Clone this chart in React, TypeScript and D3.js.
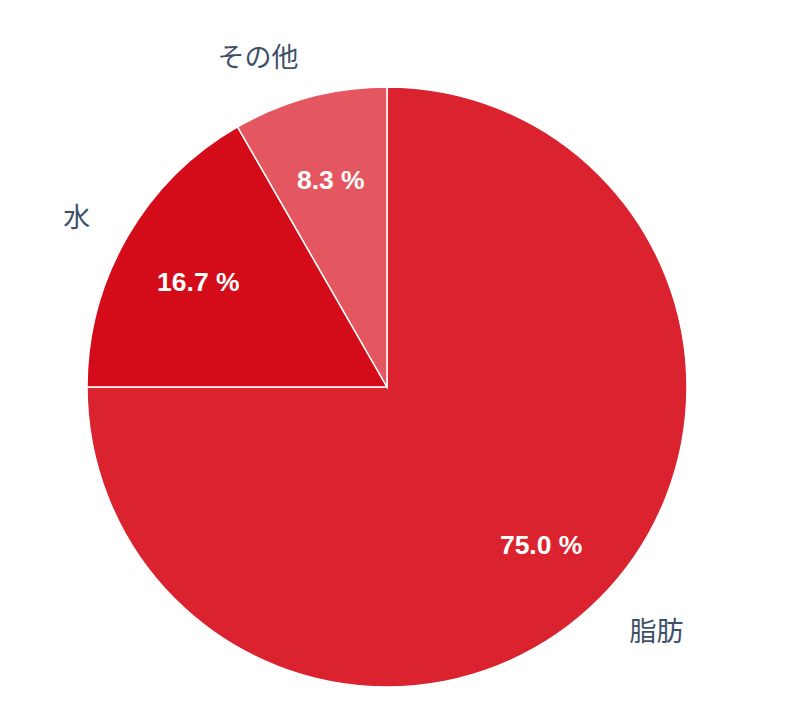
import React from "react";
import * as d3 from "d3";

const categories = ["脂肪", "水", "その他"];
const values = [75.0, 16.7, 8.3];
const colors = ["#db2330", "#d40b19", "#e45761"];

const W = 798;
const H = 706;
const cx = 387;
const cy = 387;
const R = 300;

export default function App() {
  const pie = d3.pie<number>().sort(null).value((d) => d)(values);
  const arc = d3.arc<d3.PieArcDatum<number>>().innerRadius(0).outerRadius(R);
  const inR = 218;
  const outR = 343;
  const outFont = 27;
  return (
    <svg width={W} height={H} style={{ position: "absolute", left: 0, top: 0 }}>
      <g transform={`translate(${cx},${cy})`}>
        {pie.map((p, i) => (
          <path key={i} d={arc(p) || ""} fill={colors[i]} stroke="#fff" strokeWidth={1.5} />
        ))}
        {pie.map((p, i) => {
          const a = (p.startAngle + p.endAngle) / 2;
          const x = inR * Math.sin(a);
          const y = -inR * Math.cos(a);
          return (
            <text
              key={"in" + i}
              x={x}
              y={y}
              dy={4}
              textAnchor="middle"
              dominantBaseline="central"
              fill="#fff"
              fontFamily="Liberation Sans, Arial, sans-serif"
              fontWeight="bold"
              fontSize={26.5}
            >
              {values[i].toFixed(1) + " %"}
            </text>
          );
        })}
        {pie.map((p, i) => {
          const a = (p.startAngle + p.endAngle) / 2;
          const s = Math.sin(a);
          const c = -Math.cos(a);
          const x = outR * s;
          const y = outR * c;
          return (
            <text
              key={"out" + i}
              x={x}
              y={y}
              textAnchor={s >= 0 ? "start" : "end"}
              dominantBaseline="central"
              fill="#3e5068"
              fontFamily="Noto Sans CJK JP, sans-serif"
              fontSize={outFont}
            >
              {categories[i]}
            </text>
          );
        })}
      </g>
    </svg>
  );
}
